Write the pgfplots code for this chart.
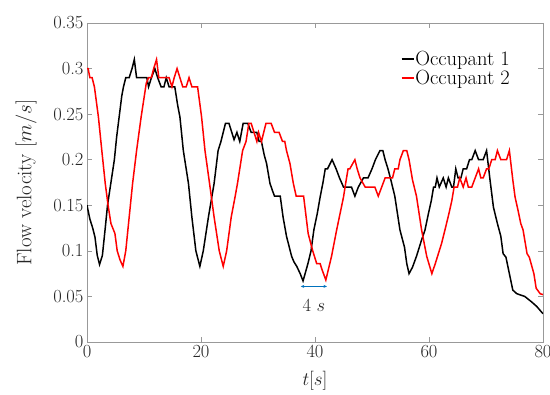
\RequirePackage{fix-cm}
\documentclass[border=0pt]{standalone}
\usepackage{pgfplots}
\pgfplotsset{compat=1.18}
\usetikzlibrary{arrows.meta}
\definecolor{axgray}{rgb}{0.6,0.6,0.6}
\definecolor{txt}{rgb}{0.15,0.15,0.15}
\definecolor{arrowblue}{rgb}{0,0.447,0.741}
\begin{document}
\begin{tikzpicture}
\begin{axis}[
  name=ax,
  scale only axis,
  width=456bp, height=319bp,
  xmin=0, xmax=80, ymin=0, ymax=0.35,
  xtick={0,20,40,60,80},
  ytick={0,0.05,0.1,0.15,0.2,0.25,0.3,0.35},
  yticklabels={0,0.05,0.1,0.15,0.2,0.25,0.3,0.35},
  tick align=inside,
  major tick length=5bp,
  axis line style={axgray, line width=0.6bp},
  every tick/.style={axgray, line width=0.6bp},
  tick label style={font=\fontsize{18.5bp}{22bp}\selectfont, text=txt},
  xlabel={$t[s]$},
  ylabel={Flow velocity $[m/s]$},
  xlabel style={font=\fontsize{19bp}{23bp}\selectfont, text=txt, yshift=-7bp},
  ylabel style={font=\fontsize{21bp}{25bp}\selectfont, text=txt, yshift=10bp},
  legend style={draw=none, fill=none, at={(0.93,0.915)}, anchor=north east,
    font=\fontsize{20.5bp}{24bp}\selectfont, row sep=1bp, inner sep=0bp,
    nodes={inner sep=1bp}},
  legend cell align=left,
  legend image code/.code={\draw[#1] (0bp,0bp) -- (12bp,0bp);},
]
\addplot[black, line width=1.5bp] coordinates {
(0,0.150)(0.5,0.135)(1.0,0.125)(1.4,0.115)(1.8,0.095)(2.2,0.085)(2.7,0.095)(3.2,0.125)
(3.6,0.150)(4.2,0.175)(4.8,0.200)(5.2,0.225)(5.7,0.250)(6.1,0.270)(6.4,0.280)(6.8,0.290)
(7.4,0.290)(7.9,0.300)(8.3,0.310)(8.7,0.290)(10.5,0.290)(10.8,0.280)(11.3,0.290)(11.9,0.300)
(12.4,0.290)(13.0,0.280)(13.5,0.280)(13.9,0.290)(14.4,0.280)(15.4,0.280)(15.9,0.260)(16.3,0.247)
(16.9,0.210)(17.8,0.174)(18.4,0.137)(19.1,0.100)(19.8,0.083)(20.4,0.100)(21.3,0.137)(22.3,0.174)
(23.0,0.210)(23.5,0.220)(23.9,0.230)(24.3,0.240)(24.9,0.240)(25.4,0.230)(25.8,0.222)(26.3,0.230)
(26.8,0.220)(27.4,0.240)(28.2,0.240)(28.8,0.230)(29.8,0.230)(30.2,0.220)(30.6,0.220)(31.1,0.205)
(31.5,0.196)(32.1,0.174)(32.6,0.165)(32.9,0.160)(33.9,0.160)(34.4,0.137)(35.0,0.116)(35.9,0.094)
(36.3,0.088)(36.8,0.083)(37.4,0.075)(37.9,0.067)(38.4,0.078)(38.8,0.087)(39.3,0.100)(39.8,0.123)
(40.4,0.141)(40.9,0.159)(41.4,0.175)(41.8,0.190)(42.2,0.190)(43.0,0.200)(43.7,0.190)(44.3,0.180)
(45.0,0.170)(46.4,0.170)(47.0,0.160)(47.6,0.170)(48.5,0.180)(49.3,0.180)(50.0,0.190)(50.6,0.200)
(51.4,0.210)(51.9,0.210)(52.3,0.200)(52.8,0.190)(53.3,0.178)(54.0,0.160)(54.9,0.123)(55.7,0.104)
(56.1,0.086)(56.5,0.075)(57.1,0.082)(57.8,0.094)(58.6,0.110)(59.3,0.123)(59.9,0.141)(60.4,0.155)
(60.8,0.170)(61.1,0.170)(61.4,0.180)(61.8,0.170)(62.5,0.180)(63.0,0.170)(63.4,0.180)(64.0,0.170)
(64.3,0.170)(64.7,0.190)(65.1,0.180)(65.6,0.180)(66.0,0.190)(66.6,0.190)(67.1,0.200)(67.5,0.200)
(68.1,0.210)(68.7,0.200)(69.5,0.200)(70.1,0.210)(70.7,0.178)(71.3,0.148)(72.0,0.130)(72.6,0.116)
(73.0,0.097)(73.5,0.093)(74.1,0.075)(74.7,0.057)(75.4,0.053)(76.8,0.050)(78.0,0.044)(78.9,0.039)
(80.0,0.031)
};
\addlegendentry{Occupant 1}
\addplot[red, line width=1.5bp] coordinates {
(0,0.300)(0.2,0.300)(0.5,0.290)(0.9,0.290)(1.3,0.280)(2.0,0.247)(2.6,0.210)(3.2,0.174)
(3.7,0.150)(4.2,0.130)(4.9,0.119)(5.3,0.100)(5.8,0.090)(6.3,0.083)(6.8,0.100)(7.4,0.137)
(8.0,0.174)(8.7,0.210)(9.5,0.247)(10.4,0.284)(10.8,0.290)(11.3,0.290)(11.7,0.300)(12.2,0.310)
(12.6,0.290)(14.4,0.290)(14.9,0.280)(15.3,0.290)(15.8,0.300)(16.3,0.290)(16.8,0.280)(17.4,0.280)
(17.9,0.290)(18.4,0.280)(19.4,0.280)(20.1,0.247)(20.7,0.210)(21.5,0.174)(22.3,0.137)(23.2,0.100)
(23.9,0.083)(24.5,0.100)(25.3,0.137)(26.0,0.160)(26.4,0.174)(27.3,0.210)(27.9,0.220)(28.4,0.240)
(28.8,0.240)(29.3,0.230)(29.8,0.220)(30.1,0.230)(30.6,0.220)(31.4,0.240)(32.3,0.240)(32.9,0.230)
(33.7,0.230)(34.3,0.220)(34.7,0.220)(35.0,0.210)(35.6,0.196)(36.2,0.174)(36.7,0.160)(38.0,0.160)
(38.8,0.119)(39.6,0.100)(40.3,0.086)(40.9,0.086)(41.2,0.080)(41.9,0.068)(42.9,0.094)(43.8,0.123)
(44.4,0.141)(45.0,0.159)(45.4,0.175)(45.8,0.190)(46.1,0.190)(47.0,0.200)(47.4,0.190)(47.9,0.180)
(48.8,0.170)(50.5,0.170)(51.1,0.160)(51.7,0.170)(52.3,0.180)(53.6,0.180)(54.0,0.190)(54.6,0.190)
(54.9,0.200)(55.5,0.210)(56.1,0.210)(56.5,0.200)(57.1,0.178)(57.8,0.160)(58.7,0.123)(59.6,0.094)
(60.5,0.075)(61.1,0.086)(62.2,0.108)(62.8,0.123)(63.5,0.141)(64.0,0.155)(64.4,0.170)(65.0,0.170)
(65.4,0.180)(66.0,0.170)(66.5,0.180)(66.9,0.170)(67.5,0.170)(68.1,0.180)(68.7,0.190)(69.1,0.180)
(69.5,0.180)(70.1,0.190)(70.5,0.190)(71.0,0.200)(71.6,0.200)(72.0,0.210)(72.6,0.200)(73.6,0.200)
(74.1,0.210)(74.7,0.178)(75.1,0.159)(75.6,0.145)(76.1,0.130)(76.5,0.123)(77.2,0.097)(77.6,0.093)
(78.4,0.075)(78.8,0.059)(79.5,0.053)(80.0,0.052)
};
\addlegendentry{Occupant 2}
\draw[arrowblue, line width=0.7bp, {Stealth[length=3.5bp,width=3bp]}-{Stealth[length=3.5bp,width=3bp]}] (axis cs:37.5,0.061) -- (axis cs:42.1,0.061);
\node[font=\fontsize{18.5bp}{22bp}\selectfont, text=txt] at (axis cs:39.8,0.040) {$4~s$};
\end{axis}
\pgfresetboundingbox
\path[use as bounding box] ([xshift=-87bp,yshift=-52bp]ax.south west) rectangle ([xshift=7bp,yshift=23bp]ax.north east);
\end{tikzpicture}
\end{document}
